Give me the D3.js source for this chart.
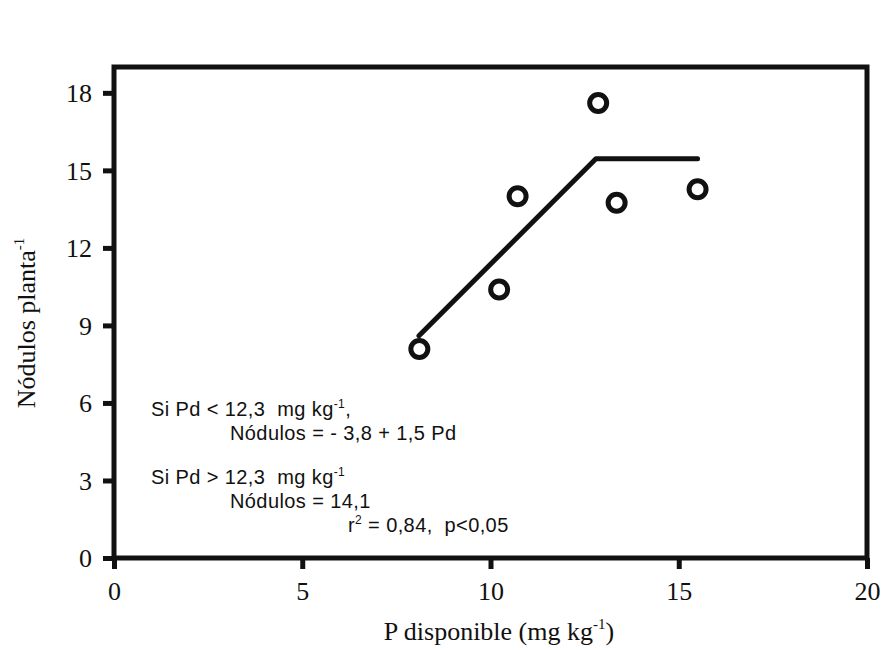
<!DOCTYPE html>
<html>
<head>
<meta charset="utf-8">
<script src="https://cdn.jsdelivr.net/npm/d3@7"></script>
<style>
  html, body { margin: 0; padding: 0; background: #fff; }
  svg { display: block; }
</style>
</head>
<body>
<svg id="chart" width="884" height="650"></svg>
<script>
// ---- data ----
const pDisponible = [8.11, 10.23, 10.72, 12.86, 13.35, 15.50];
const nodulos     = [8.09, 10.39, 14.00, 17.61, 13.75, 14.27];
const fitX = [8.1, 12.8, 15.5];
const fitY = [8.6, 15.45, 15.45];
const xTicks = [0, 5, 10, 15, 20];
const yTicks = [0, 3, 6, 9, 12, 15, 18];
const annotations = [
  { parts: [["Si Pd < 12,3  mg kg", false], ["-1", true], [",", false]], col: 0, row: 0 },
  { parts: [["Nódulos = - 3,8 + 1,5 Pd", false]], col: 1, row: 1 },
  { parts: [["Si Pd > 12,3  mg kg", false], ["-1", true]], col: 0, row: 2 },
  { parts: [["Nódulos = 14,1", false]], col: 1, row: 3 },
  { parts: [["r", false], ["2", true], [" = 0,84,  p<0,05", false]], col: 2, row: 4 }
];

// ---- layout ----
const svg = d3.select("#chart");
const x = d3.scaleLinear().domain([0, 20]).range([114, 867]);
const y = d3.scaleLinear().domain([0, 19]).range([558, 67]);
const ink = "#111";
const serif = "'Liberation Serif', 'Times New Roman', serif";
const sans = "'Liberation Sans', Arial, sans-serif";

// frame
svg.append("rect")
  .attr("x", x(0)).attr("y", y(19))
  .attr("width", x(20) - x(0)).attr("height", y(0) - y(19))
  .attr("fill", "none").attr("stroke", ink).attr("stroke-width", 5);

// y axis
const yAxis = d3.axisLeft(y).tickValues(yTicks).tickSize(11).tickPadding(10)
  .tickFormat(d3.format("d"));
const gy = svg.append("g").attr("transform", `translate(${x(0)},0)`).call(yAxis);
gy.select(".domain").remove();
gy.selectAll(".tick line").attr("stroke", ink).attr("stroke-width", 5);
gy.selectAll(".tick text").attr("font-family", serif).attr("font-size", 26)
  .attr("fill", ink).attr("x", -22).attr("dy", "0.34em");

// x axis
const xAxis = d3.axisBottom(x).tickValues(xTicks).tickSize(11).tickPadding(10)
  .tickFormat(d3.format("d"));
const gx = svg.append("g").attr("transform", `translate(0,${y(0)})`).call(xAxis);
gx.select(".domain").remove();
gx.selectAll(".tick line").attr("stroke", ink).attr("stroke-width", 5);
gx.selectAll(".tick text").attr("font-family", serif).attr("font-size", 26)
  .attr("fill", ink).attr("y", 42).attr("dy", 0);

// axis titles
const xt = svg.append("text")
  .attr("x", 499).attr("y", 640).attr("text-anchor", "middle")
  .attr("font-family", serif).attr("font-size", 26).attr("fill", ink);
xt.append("tspan").text("P disponible (mg kg");
xt.append("tspan").text("-1").attr("font-size", 15).attr("dy", -11);
xt.append("tspan").text(")").attr("dy", 11);

const yt = svg.append("text")
  .attr("transform", "translate(35,323) rotate(-90)").attr("text-anchor", "middle")
  .attr("font-family", serif).attr("font-size", 26).attr("fill", ink);
yt.append("tspan").text("Nódulos  planta");
yt.append("tspan").text("-1").attr("font-size", 15).attr("dy", -11);

// fitted line
const line = d3.line().x(d => x(d[0])).y(d => y(d[1]));
svg.append("path")
  .datum(fitX.map((v, i) => [v, fitY[i]]))
  .attr("d", line)
  .attr("fill", "none").attr("stroke", ink).attr("stroke-width", 5)
  .attr("stroke-linejoin", "round").attr("stroke-linecap", "round");

// points
svg.append("g").selectAll("circle")
  .data(pDisponible.map((v, i) => [v, nodulos[i]]))
  .join("circle")
  .attr("cx", d => x(d[0])).attr("cy", d => y(d[1]))
  .attr("r", 8.5)
  .attr("fill", "#fff").attr("stroke", ink).attr("stroke-width", 5);

// annotations
const colX = [151, 230, 348];
const rowY = [416, 440, 484, 508, 532];
annotations.forEach(a => {
  const t = svg.append("text")
    .attr("x", colX[a.col]).attr("y", rowY[a.row])
    .attr("font-family", sans).attr("font-size", 20).attr("fill", ink)
    .attr("letter-spacing", 0.4)
    .attr("xml:space", "preserve").style("white-space", "pre");
  let raised = false;
  a.parts.forEach(([s, sup]) => {
    const ts = t.append("tspan").text(s);
    if (sup && !raised) { ts.attr("font-size", 12).attr("dy", -8); raised = true; }
    else if (!sup && raised) { ts.attr("dy", 8); raised = false; }
  });
});
</script>
</body>
</html>
